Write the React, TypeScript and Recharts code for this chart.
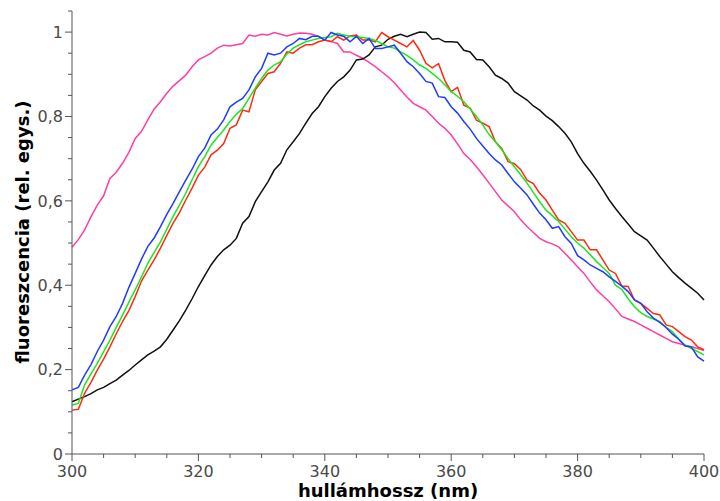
import { LineChart, Line, XAxis, YAxis, Label } from "recharts"

// hullámhossz (nm), 1 nm lépés
const wavelengths = [
  300, 301, 302, 303, 304, 305, 306, 307, 308, 309, 310, 311, 312, 313, 314, 315, 316, 317, 318, 319,
  320, 321, 322, 323, 324, 325, 326, 327, 328, 329, 330, 331, 332, 333, 334, 335, 336, 337, 338, 339,
  340, 341, 342, 343, 344, 345, 346, 347, 348, 349, 350, 351, 352, 353, 354, 355, 356, 357, 358, 359,
  360, 361, 362, 363, 364, 365, 366, 367, 368, 369, 370, 371, 372, 373, 374, 375, 376, 377, 378, 379,
  380, 381, 382, 383, 384, 385, 386, 387, 388, 389, 390, 391, 392, 393, 394, 395, 396, 397, 398, 399,
  400,
]

const pink = [
  0.49, 0.508, 0.531, 0.562, 0.59, 0.612, 0.653, 0.668, 0.689, 0.715, 0.748, 0.765, 0.792, 0.818, 0.835, 0.855, 0.872, 0.885, 0.898, 0.918,
  0.934, 0.942, 0.95, 0.962, 0.969, 0.967, 0.97, 0.973, 0.993, 0.99, 0.995, 0.993, 0.999, 0.995, 0.991, 0.995, 0.998, 0.997, 0.995, 0.99,
  0.981, 0.978, 0.973, 0.953, 0.953, 0.945, 0.938, 0.928, 0.918, 0.906, 0.894, 0.88, 0.863, 0.846, 0.831, 0.823, 0.815, 0.8, 0.784, 0.772,
  0.756, 0.735, 0.712, 0.698, 0.681, 0.662, 0.642, 0.622, 0.602, 0.588, 0.574, 0.555, 0.539, 0.525, 0.511, 0.503, 0.498, 0.491, 0.476, 0.46,
  0.444, 0.428, 0.408, 0.389, 0.375, 0.361, 0.344, 0.326, 0.32, 0.314, 0.306, 0.298, 0.29, 0.282, 0.274, 0.266, 0.262, 0.258, 0.254, 0.25,
  0.245,
]

const black = [
  0.124, 0.13, 0.136, 0.143, 0.152, 0.158, 0.167, 0.175, 0.187, 0.198, 0.211, 0.223, 0.235, 0.244, 0.254, 0.272, 0.294, 0.316, 0.341, 0.368,
  0.397, 0.423, 0.448, 0.468, 0.484, 0.495, 0.511, 0.547, 0.563, 0.598, 0.622, 0.645, 0.673, 0.689, 0.721, 0.74, 0.76, 0.784, 0.807, 0.823,
  0.847, 0.867, 0.883, 0.894, 0.91, 0.934, 0.936, 0.946, 0.965, 0.969, 0.983, 0.99, 0.995, 0.989, 0.995, 1.0, 0.999, 0.983, 0.985, 0.977,
  0.977, 0.976, 0.957, 0.953, 0.935, 0.934, 0.918, 0.898, 0.89, 0.879, 0.859, 0.849, 0.839, 0.825, 0.815, 0.801, 0.79, 0.776, 0.76, 0.74,
  0.712, 0.689, 0.67, 0.649, 0.626, 0.602, 0.582, 0.563, 0.545, 0.527, 0.517, 0.507, 0.488, 0.468, 0.45, 0.432, 0.418, 0.405, 0.393, 0.381,
  0.365,
]

const red = [
  0.104, 0.106, 0.144, 0.17, 0.199, 0.225, 0.254, 0.285, 0.314, 0.34, 0.373, 0.41, 0.436, 0.46, 0.488, 0.518, 0.547, 0.572, 0.602, 0.63,
  0.661, 0.68, 0.709, 0.72, 0.736, 0.772, 0.78, 0.815, 0.811, 0.863, 0.883, 0.902, 0.906, 0.926, 0.953, 0.95, 0.962, 0.97, 0.97, 0.977,
  0.981, 0.977, 0.989, 0.981, 0.991, 0.993, 0.981, 0.981, 0.977, 0.999, 0.989, 0.981, 0.973, 0.965, 0.98, 0.957, 0.926, 0.915, 0.925, 0.885,
  0.859, 0.869, 0.827, 0.82, 0.791, 0.784, 0.776, 0.74, 0.724, 0.693, 0.688, 0.674, 0.649, 0.641, 0.618, 0.602, 0.578, 0.555, 0.547, 0.527,
  0.507, 0.507, 0.484, 0.484, 0.46, 0.436, 0.428, 0.398, 0.397, 0.365, 0.357, 0.345, 0.333, 0.33, 0.306, 0.302, 0.29, 0.278, 0.27, 0.254,
  0.247,
]

const green = [
  0.116, 0.12, 0.164, 0.19, 0.215, 0.242, 0.27, 0.3, 0.329, 0.36, 0.389, 0.42, 0.452, 0.478, 0.503, 0.533, 0.563, 0.59, 0.618, 0.65,
  0.681, 0.705, 0.732, 0.75, 0.768, 0.788, 0.805, 0.819, 0.843, 0.867, 0.89, 0.91, 0.922, 0.93, 0.948, 0.962, 0.97, 0.977, 0.981, 0.985,
  0.987, 0.989, 0.997, 0.993, 0.99, 0.989, 0.987, 0.985, 0.98, 0.973, 0.965, 0.962, 0.953, 0.945, 0.934, 0.922, 0.914, 0.902, 0.89, 0.875,
  0.859, 0.848, 0.835, 0.818, 0.8, 0.78, 0.757, 0.74, 0.721, 0.7, 0.681, 0.662, 0.642, 0.62, 0.598, 0.578, 0.565, 0.551, 0.533, 0.515,
  0.5, 0.488, 0.472, 0.456, 0.442, 0.428, 0.4, 0.39, 0.368, 0.349, 0.335, 0.326, 0.32, 0.314, 0.3, 0.29, 0.272, 0.258, 0.25, 0.243,
  0.235,
]

const blue = [
  0.152, 0.158, 0.187, 0.212, 0.243, 0.27, 0.302, 0.326, 0.357, 0.395, 0.428, 0.462, 0.492, 0.512, 0.539, 0.568, 0.594, 0.622, 0.649, 0.675,
  0.705, 0.725, 0.756, 0.77, 0.792, 0.823, 0.834, 0.843, 0.863, 0.894, 0.914, 0.95, 0.946, 0.95, 0.965, 0.973, 0.985, 0.982, 0.99, 0.99,
  0.981, 0.999, 0.993, 0.99, 0.977, 0.99, 0.973, 0.985, 0.961, 0.961, 0.965, 0.969, 0.95, 0.93, 0.918, 0.902, 0.883, 0.879, 0.847, 0.845,
  0.823, 0.808, 0.788, 0.77, 0.748, 0.73, 0.712, 0.697, 0.685, 0.665, 0.645, 0.63, 0.614, 0.592, 0.571, 0.555, 0.535, 0.539, 0.515, 0.499,
  0.47, 0.46, 0.448, 0.44, 0.432, 0.42, 0.409, 0.398, 0.385, 0.365, 0.357, 0.337, 0.322, 0.312, 0.3, 0.284, 0.272, 0.256, 0.254, 0.23,
  0.22,
]

const xTicks = [300, 305, 310, 315, 320, 325, 330, 335, 340, 345, 350, 355, 360, 365, 370, 375, 380, 385, 390, 395, 400]
const xLabels = [300, 320, 340, 360, 380, 400]
const yTicks = [0, 0.05, 0.1, 0.15, 0.2, 0.25, 0.3, 0.35, 0.4, 0.45, 0.5, 0.55, 0.6, 0.65, 0.7, 0.75, 0.8, 0.85, 0.9, 0.95, 1, 1.05]
const yLabels = [0, 0.2, 0.4, 0.6, 0.8, 1]

const data = wavelengths.map((nm, i) => ({
  nm,
  pink: pink[i],
  black: black[i],
  red: red[i],
  green: green[i],
  blue: blue[i],
}))

const AXIS = "#555"
const FONT = "'DejaVu Sans', sans-serif"

const isLabel = (list: number[], v: number) => list.some((l) => Math.abs(l - v) < 1e-6)

function XTick({ x, y, payload }: any) {
  const major = isLabel(xLabels, payload.value)
  return (
    <g>
      <line x1={x} x2={x} y1={y} y2={y + (major ? 7 : 4)} stroke={AXIS} strokeWidth={1} />
      {major && (
        <text x={x} y={y + 23} textAnchor="middle" fill="#4a4a4a" fontSize={16} fontFamily={FONT}>
          {payload.value}
        </text>
      )}
    </g>
  )
}

function YTick({ x, y, payload }: any) {
  const major = isLabel(yLabels, payload.value)
  return (
    <g>
      <line x1={x - (major ? 7 : 4)} x2={x} y1={y} y2={y} stroke={AXIS} strokeWidth={1} />
      {major && (
        <text x={x - 9} y={y} dy="0.36em" textAnchor="end" fill="#4a4a4a" fontSize={16} fontFamily={FONT}>
          {String(payload.value).replace(".", ",")}
        </text>
      )}
    </g>
  )
}

const XTitle = () => (
  <text x={388} y={497} textAnchor="middle" fontSize={18} fontWeight="bold" fontFamily={FONT} fill="#000">
    hullámhossz (nm)
  </text>
)

const YTitle = () => (
  <text
    x={23}
    y={232}
    transform="rotate(-90 23 232)"
    textAnchor="middle"
    dy="0.35em"
    fontSize={18}
    fontWeight="bold"
    fontFamily={FONT}
    fill="#000"
  >
    fluoreszcencia (rel. egys.)
  </text>
)

export default function App() {
  return (
    <div style={{ position: "absolute", left: 0, top: 0, background: "#fff" }}>
      <LineChart width={720} height={501} data={data} margin={{ top: 11, right: 16, bottom: 0, left: 0 }}>
        <XAxis
          dataKey="nm"
          type="number"
          domain={[300, 400]}
          ticks={xTicks}
          interval={0}
          height={47}
          tickSize={0}
          tickMargin={0}
          tickLine={false}
          axisLine={{ stroke: AXIS }}
          tick={<XTick />}
        >
          <Label content={<XTitle />} />
        </XAxis>
        <YAxis
          type="number"
          domain={[0, 1.05]}
          ticks={yTicks}
          interval={0}
          width={72}
          tickSize={0}
          tickMargin={0}
          tickLine={false}
          axisLine={{ stroke: AXIS }}
          tick={<YTick />}
        >
          <Label content={<YTitle />} />
        </YAxis>
        <Line type="linear" dataKey="pink" stroke="#ff3fa0" strokeWidth={1.5} dot={false} isAnimationActive={false} />
        <Line type="linear" dataKey="black" stroke="#111111" strokeWidth={1.5} dot={false} isAnimationActive={false} />
        <Line type="linear" dataKey="red" stroke="#ff2a12" strokeWidth={1.5} dot={false} isAnimationActive={false} />
        <Line type="linear" dataKey="green" stroke="#1ee61e" strokeWidth={1.5} dot={false} isAnimationActive={false} />
        <Line type="linear" dataKey="blue" stroke="#1f3cff" strokeWidth={1.5} dot={false} isAnimationActive={false} />
      </LineChart>
    </div>
  )
}
